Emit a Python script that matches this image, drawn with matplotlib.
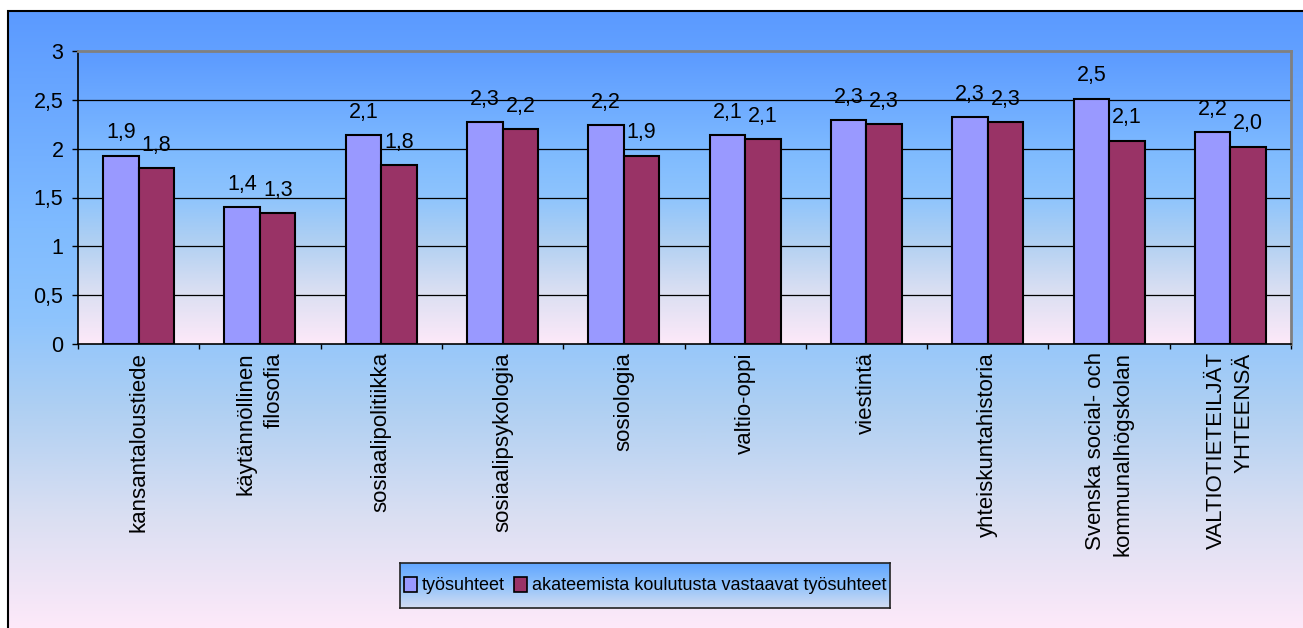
import numpy as np
import matplotlib.pyplot as plt
from matplotlib.colors import LinearSegmentedColormap
from matplotlib.patches import Patch, Rectangle

plt.rcParams['font.family'] = ['Liberation Sans', 'DejaVu Sans']

# data
categories = ["kansantaloustiede", "käytännöllinen\nfilosofia", "sosiaalipolitiikka",
              "sosiaalipsykologia", "sosiologia", "valtio-oppi", "viestintä",
              "yhteiskuntahistoria", "Svenska social- och\nkommunalhögskolan",
              "VALTIOTIETEILJÄT\nYHTEENSÄ"]
tyosuhteet = [1.93, 1.40, 2.14, 2.27, 2.24, 2.14, 2.29, 2.32, 2.51, 2.17]
vastaavat = [1.80, 1.34, 1.83, 2.20, 1.93, 2.10, 2.25, 2.27, 2.08, 2.02]
labels_1 = ["1,9", "1,4", "2,1", "2,3", "2,2", "2,1", "2,3", "2,3", "2,5", "2,2"]
labels_2 = ["1,8", "1,3", "1,8", "2,2", "1,9", "2,1", "2,3", "2,3", "2,1", "2,0"]
series_names = ["työsuhteet", "akateemista koulutusta vastaavat työsuhteet"]
yticks = [0, 0.5, 1, 1.5, 2, 2.5, 3]
ytick_labels = ["0", "0,5", "1", "1,5", "2", "2,5", "3"]

W, H = 1303, 628
c1, c2 = '#9999ff', '#993366'

bg_cmap = LinearSegmentedColormap.from_list('bg', [
    (0.0, '#5b9aff'), (0.35, '#7fbbff'), (0.5, '#8ec4fd'),
    (0.65, '#b0d0f2'), (0.82, '#dadff2'), (1.0, '#fde9f9')])
leg_cmap = LinearSegmentedColormap.from_list('leg', [
    (0.0, '#62a6ff'), (0.5, '#90c2fb'), (1.0, '#d4ddf2')])
grad = np.linspace(0, 1, 256).reshape(-1, 1)

fig = plt.figure(figsize=(W / 100, H / 100), dpi=100)

# outer chart area
bg = fig.add_axes([8 / W, 0, 1 - 8 / W, 617 / H], zorder=-2)
bg.imshow(grad, cmap=bg_cmap, aspect='auto')
bg.axis('off')
fig.add_artist(Rectangle((8 / W, -0.1), 1.2, 617 / H + 0.1, transform=fig.transFigure,
                         fill=False, edgecolor='black', lw=1.5))

ax = fig.add_axes([78 / W, (H - 344) / H, 1213 / W, 293 / H])
x = np.arange(len(categories))
w = 0.293
ax.imshow(grad, cmap=bg_cmap, aspect='auto', extent=[-0.5, len(categories) - 0.5, 0, 3], zorder=0)
ax.bar(x - w / 2, tyosuhteet, w, color=c1, edgecolor='black', lw=1.5, zorder=2)
ax.bar(x + w / 2, vastaavat, w, color=c2, edgecolor='black', lw=1.5, zorder=2)
for xi, v, lab in zip(x - w / 2, tyosuhteet, labels_1):
    ax.annotate(lab, (xi, v), xytext=(0, 12.5), textcoords='offset points',
                ha='center', va='baseline', fontsize=15.5)
for xi, v, lab in zip(x + w / 2, vastaavat, labels_2):
    ax.annotate(lab, (xi, v), xytext=(0, 12.5), textcoords='offset points',
                ha='center', va='baseline', fontsize=15.5)

ax.set_xlim(-0.5, len(categories) - 0.5)
ax.set_ylim(0, 3)
for yv in yticks[1:-1]:
    ax.axhline(yv, color='black', lw=0.9, zorder=1)

ax.set_yticks(yticks)
ax.set_yticklabels(ytick_labels)
ax.tick_params(axis='y', direction='out', length=4.5, width=1, labelsize=15.5, pad=6)
ax.set_xticks(x)
ax.set_xticklabels(categories, rotation=90, ha='center', va='top',
                   multialignment='right', linespacing=1.4)
ax.tick_params(axis='x', which='major', length=0, labelsize=16, pad=6)
ax.set_xticks(np.arange(-0.5, len(categories), 1), minor=True)
ax.tick_params(axis='x', which='minor', direction='out', length=3.6, width=1)

for s in ['top', 'right']:
    ax.spines[s].set_color('#808080')
    ax.spines[s].set_linewidth(2)
for s in ['left', 'bottom']:
    ax.spines[s].set_color('black')
    ax.spines[s].set_linewidth(1.2)

# legend box with its own gradient
lax = fig.add_axes([400 / W, (H - 608) / H, 490 / W, 45 / H], zorder=3)
lax.imshow(grad, cmap=leg_cmap, aspect='auto')
lax.set_xticks([])
lax.set_yticks([])
for s in lax.spines.values():
    s.set_color('#222222')
    s.set_linewidth(1.2)
handles = [Patch(facecolor=c1, edgecolor='black', lw=1.2),
           Patch(facecolor=c2, edgecolor='black', lw=1.2)]
lax.legend(handles, series_names, loc='center', ncol=2, frameon=False, fontsize=13,
           handlelength=0.75, handleheight=0.95, handletextpad=0.25,
           columnspacing=0.5, borderaxespad=0)

fig.savefig('out.png', dpi=100)
